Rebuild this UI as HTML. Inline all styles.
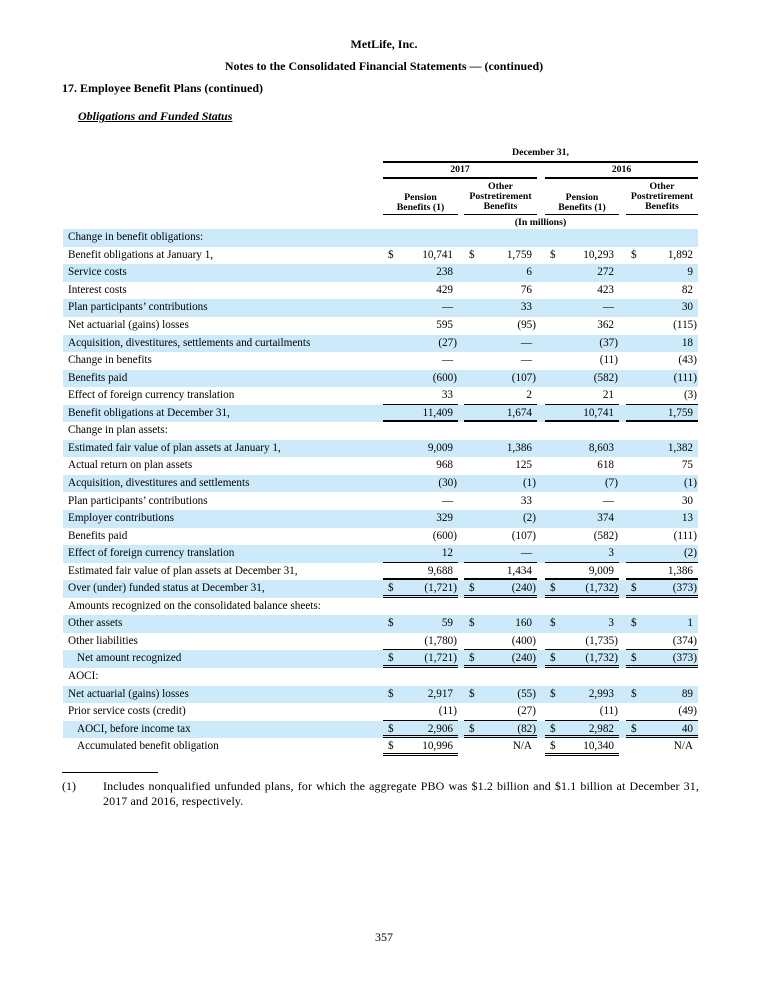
<!DOCTYPE html>
<html><head><meta charset="utf-8"><style>
*{margin:0;padding:0;box-sizing:border-box}
body{width:768px;height:993px;background:#fff;position:relative;font-family:"Liberation Serif",serif;color:#000;overflow:hidden}
.t{position:absolute;white-space:nowrap}
.r{position:absolute;left:63px;width:635px;height:17.6px;font-size:11.2px;line-height:17px}
.s{background:#cdeafa}
.l{position:absolute;left:5px;top:0}
.l.i{left:14px}
.c{position:absolute;top:0;height:17.6px}
.c1{left:320px;width:75px}.c2{left:401px;width:73px}.c3{left:482px;width:74px}.c4{left:563px;width:72px}
.d{position:absolute;left:5px}
.n{position:absolute;right:5px}
.p{margin-right:-4px}
.u{border-bottom:1px solid #000}
.k{border-bottom:2px solid #000}
.w{border-bottom:3px double #000}
.h{position:absolute;font-size:9.8px;font-weight:bold;text-align:center;line-height:10px}
.hl{position:absolute;height:2px;background:#000}
</style></head><body>
<div class="t" style="left:0;width:768px;text-align:center;top:37px;font-size:12px;font-weight:bold">MetLife, Inc.</div>
<div class="t" style="left:0;width:768px;text-align:center;top:59px;font-size:12px;font-weight:bold">Notes to the Consolidated Financial Statements — (continued)</div>
<div class="t" style="left:62px;top:81px;font-size:12px;font-weight:bold">17. Employee Benefit Plans (continued)</div>
<div class="t" style="left:78px;top:109px;font-size:12px;font-weight:bold;font-style:italic;text-decoration:underline">Obligations and Funded Status</div>

<div class="h" style="left:383px;width:315px;top:148px">December 31,</div>
<div class="hl" style="left:383px;width:315px;top:161px"></div>
<div class="h" style="left:383px;width:154px;top:165px">2017</div>
<div class="h" style="left:545px;width:153px;top:165px">2016</div>
<div class="hl" style="left:383px;width:154px;top:177px"></div>
<div class="hl" style="left:545px;width:153px;top:177px"></div>
<div class="h" style="left:383px;width:75px;top:193px">Pension<br>Benefits (1)</div>
<div class="h" style="left:464px;width:73px;top:182px">Other<br>Postretirement<br>Benefits</div>
<div class="h" style="left:545px;width:74px;top:193px">Pension<br>Benefits (1)</div>
<div class="h" style="left:626px;width:72px;top:182px">Other<br>Postretirement<br>Benefits</div>
<div class="hl" style="left:383px;width:75px;top:214px;height:1px"></div>
<div class="hl" style="left:464px;width:73px;top:214px;height:1px"></div>
<div class="hl" style="left:545px;width:74px;top:214px;height:1px"></div>
<div class="hl" style="left:626px;width:72px;top:214px;height:1px"></div>
<div class="h" style="left:383px;width:315px;top:218px">(In millions)</div>

<div class="r s" style="top:229.2px"><span class="l">Change in benefit obligations:</span></div>
<div class="r" style="top:246.8px"><span class="l">Benefit obligations at January 1,</span><div class="c c1"><span class="d">$</span><span class="n">10,741</span></div><div class="c c2"><span class="d">$</span><span class="n">1,759</span></div><div class="c c3"><span class="d">$</span><span class="n">10,293</span></div><div class="c c4"><span class="d">$</span><span class="n">1,892</span></div></div>
<div class="r s" style="top:264.3px"><span class="l">Service costs</span><div class="c c1"><span class="n">238</span></div><div class="c c2"><span class="n">6</span></div><div class="c c3"><span class="n">272</span></div><div class="c c4"><span class="n">9</span></div></div>
<div class="r" style="top:281.9px"><span class="l">Interest costs</span><div class="c c1"><span class="n">429</span></div><div class="c c2"><span class="n">76</span></div><div class="c c3"><span class="n">423</span></div><div class="c c4"><span class="n">82</span></div></div>
<div class="r s" style="top:299.4px"><span class="l">Plan participants’ contributions</span><div class="c c1"><span class="n">—</span></div><div class="c c2"><span class="n">33</span></div><div class="c c3"><span class="n">—</span></div><div class="c c4"><span class="n">30</span></div></div>
<div class="r" style="top:317px"><span class="l">Net actuarial (gains) losses</span><div class="c c1"><span class="n">595</span></div><div class="c c2"><span class="n p">(95)</span></div><div class="c c3"><span class="n">362</span></div><div class="c c4"><span class="n p">(115)</span></div></div>
<div class="r s" style="top:334.5px"><span class="l">Acquisition, divestitures, settlements and curtailments</span><div class="c c1"><span class="n p">(27)</span></div><div class="c c2"><span class="n">—</span></div><div class="c c3"><span class="n p">(37)</span></div><div class="c c4"><span class="n">18</span></div></div>
<div class="r" style="top:352.1px"><span class="l">Change in benefits</span><div class="c c1"><span class="n">—</span></div><div class="c c2"><span class="n">—</span></div><div class="c c3"><span class="n p">(11)</span></div><div class="c c4"><span class="n p">(43)</span></div></div>
<div class="r s" style="top:369.6px"><span class="l">Benefits paid</span><div class="c c1"><span class="n p">(600)</span></div><div class="c c2"><span class="n p">(107)</span></div><div class="c c3"><span class="n p">(582)</span></div><div class="c c4"><span class="n p">(111)</span></div></div>
<div class="r" style="top:387.2px"><span class="l">Effect of foreign currency translation</span><div class="c c1 u"><span class="n">33</span></div><div class="c c2 u"><span class="n">2</span></div><div class="c c3 u"><span class="n">21</span></div><div class="c c4 u"><span class="n p">(3)</span></div></div>
<div class="r s" style="top:404.7px"><span class="l">Benefit obligations at December 31,</span><div class="c c1 k"><span class="n">11,409</span></div><div class="c c2 k"><span class="n">1,674</span></div><div class="c c3 k"><span class="n">10,741</span></div><div class="c c4 k"><span class="n">1,759</span></div></div>
<div class="r" style="top:422.3px"><span class="l">Change in plan assets:</span></div>
<div class="r s" style="top:439.8px"><span class="l">Estimated fair value of plan assets at January 1,</span><div class="c c1"><span class="n">9,009</span></div><div class="c c2"><span class="n">1,386</span></div><div class="c c3"><span class="n">8,603</span></div><div class="c c4"><span class="n">1,382</span></div></div>
<div class="r" style="top:457.4px"><span class="l">Actual return on plan assets</span><div class="c c1"><span class="n">968</span></div><div class="c c2"><span class="n">125</span></div><div class="c c3"><span class="n">618</span></div><div class="c c4"><span class="n">75</span></div></div>
<div class="r s" style="top:474.9px"><span class="l">Acquisition, divestitures and settlements</span><div class="c c1"><span class="n p">(30)</span></div><div class="c c2"><span class="n p">(1)</span></div><div class="c c3"><span class="n p">(7)</span></div><div class="c c4"><span class="n p">(1)</span></div></div>
<div class="r" style="top:492.5px"><span class="l">Plan participants’ contributions</span><div class="c c1"><span class="n">—</span></div><div class="c c2"><span class="n">33</span></div><div class="c c3"><span class="n">—</span></div><div class="c c4"><span class="n">30</span></div></div>
<div class="r s" style="top:510px"><span class="l">Employer contributions</span><div class="c c1"><span class="n">329</span></div><div class="c c2"><span class="n p">(2)</span></div><div class="c c3"><span class="n">374</span></div><div class="c c4"><span class="n">13</span></div></div>
<div class="r" style="top:527.6px"><span class="l">Benefits paid</span><div class="c c1"><span class="n p">(600)</span></div><div class="c c2"><span class="n p">(107)</span></div><div class="c c3"><span class="n p">(582)</span></div><div class="c c4"><span class="n p">(111)</span></div></div>
<div class="r s" style="top:545.1px"><span class="l">Effect of foreign currency translation</span><div class="c c1 u"><span class="n">12</span></div><div class="c c2 u"><span class="n">—</span></div><div class="c c3 u"><span class="n">3</span></div><div class="c c4 u"><span class="n p">(2)</span></div></div>
<div class="r" style="top:562.7px"><span class="l">Estimated fair value of plan assets at December 31,</span><div class="c c1 k"><span class="n">9,688</span></div><div class="c c2 k"><span class="n">1,434</span></div><div class="c c3 k"><span class="n">9,009</span></div><div class="c c4 k"><span class="n">1,386</span></div></div>
<div class="r s" style="top:580.2px"><span class="l">Over (under) funded status at December 31,</span><div class="c c1 w"><span class="d">$</span><span class="n p">(1,721)</span></div><div class="c c2 w"><span class="d">$</span><span class="n p">(240)</span></div><div class="c c3 w"><span class="d">$</span><span class="n p">(1,732)</span></div><div class="c c4 w"><span class="d">$</span><span class="n p">(373)</span></div></div>
<div class="r" style="top:597.8px"><span class="l">Amounts recognized on the consolidated balance sheets:</span></div>
<div class="r s" style="top:615.3px"><span class="l">Other assets</span><div class="c c1"><span class="d">$</span><span class="n">59</span></div><div class="c c2"><span class="d">$</span><span class="n">160</span></div><div class="c c3"><span class="d">$</span><span class="n">3</span></div><div class="c c4"><span class="d">$</span><span class="n">1</span></div></div>
<div class="r" style="top:632.9px"><span class="l">Other liabilities</span><div class="c c1 u"><span class="n p">(1,780)</span></div><div class="c c2 u"><span class="n p">(400)</span></div><div class="c c3 u"><span class="n p">(1,735)</span></div><div class="c c4 u"><span class="n p">(374)</span></div></div>
<div class="r s" style="top:650.4px"><span class="l i">Net amount recognized</span><div class="c c1 w"><span class="d">$</span><span class="n p">(1,721)</span></div><div class="c c2 w"><span class="d">$</span><span class="n p">(240)</span></div><div class="c c3 w"><span class="d">$</span><span class="n p">(1,732)</span></div><div class="c c4 w"><span class="d">$</span><span class="n p">(373)</span></div></div>
<div class="r" style="top:668px"><span class="l">AOCI:</span></div>
<div class="r s" style="top:685.5px"><span class="l">Net actuarial (gains) losses</span><div class="c c1"><span class="d">$</span><span class="n">2,917</span></div><div class="c c2"><span class="d">$</span><span class="n p">(55)</span></div><div class="c c3"><span class="d">$</span><span class="n">2,993</span></div><div class="c c4"><span class="d">$</span><span class="n">89</span></div></div>
<div class="r" style="top:703.1px"><span class="l">Prior service costs (credit)</span><div class="c c1 u"><span class="n p">(11)</span></div><div class="c c2 u"><span class="n p">(27)</span></div><div class="c c3 u"><span class="n p">(11)</span></div><div class="c c4 u"><span class="n p">(49)</span></div></div>
<div class="r s" style="top:720.6px"><span class="l i">AOCI, before income tax</span><div class="c c1 w"><span class="d">$</span><span class="n">2,906</span></div><div class="c c2 w"><span class="d">$</span><span class="n p">(82)</span></div><div class="c c3 w"><span class="d">$</span><span class="n">2,982</span></div><div class="c c4 w"><span class="d">$</span><span class="n">40</span></div></div>
<div class="r" style="top:738.2px"><span class="l i">Accumulated benefit obligation</span><div class="c c1 w"><span class="d">$</span><span class="n">10,996</span></div><div class="c c2"><span class="n">N/A</span></div><div class="c c3 w"><span class="d">$</span><span class="n">10,340</span></div><div class="c c4"><span class="n">N/A</span></div></div>

<div style="position:absolute;left:62px;top:772px;width:96px;height:1px;background:#000"></div>
<div class="t" style="left:62px;top:779px;font-size:12px">(1)</div>
<div class="t" style="left:103px;top:779px;font-size:12px;line-height:15px;white-space:normal;width:596px;text-align:justify;letter-spacing:0.1px">Includes nonqualified unfunded plans, for which the aggregate PBO was $1.2 billion and $1.1 billion at December 31, 2017 and 2016, respectively.</div>
<div class="t" style="left:0;width:768px;text-align:center;top:930px;font-size:12px">357</div>
</body></html>
